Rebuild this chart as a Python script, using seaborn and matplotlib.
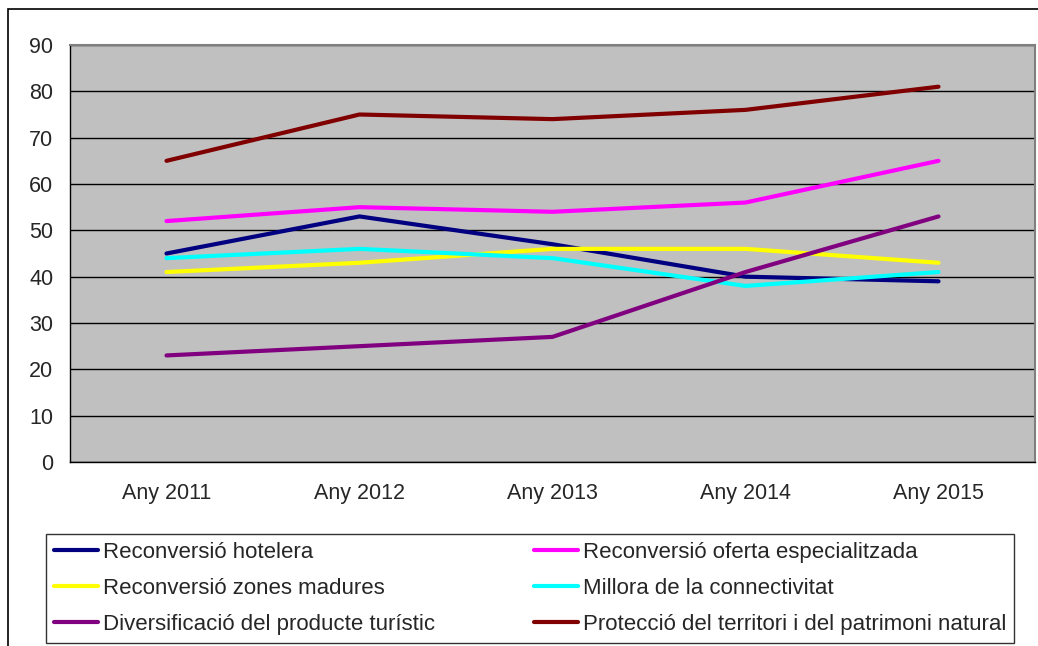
import pandas as pd
import numpy as np
import matplotlib
matplotlib.use("Agg")
import matplotlib.pyplot as plt
import matplotlib.patches as patches
import seaborn as sns

# ----- Dades del gràfic -----
anys = ["Any 2011", "Any 2012", "Any 2013", "Any 2014", "Any 2015"]

hotelera = [45, 53, 47, 40, 39]
oferta = [52, 55, 54, 56, 65]
zones = [41, 43, 46, 46, 43]
connectivitat = [44, 46, 44, 38, 41]
diversificacio = [23, 25, 27, 41, 53]
proteccio = [65, 75, 74, 76, 81]

series = {
    "Reconversió hotelera": hotelera,
    "Reconversió oferta especialitzada": oferta,
    "Reconversió zones madures": zones,
    "Millora de la connectivitat": connectivitat,
    "Diversificació del producte turístic": diversificacio,
    "Protecció del territori i del patrimoni natural": proteccio,
}
colors = ["#000080", "#FF00FF", "#FFFF00", "#00FFFF", "#800080", "#800000"]

df = pd.DataFrame([
    {"any": a, "serie": nom, "valor": v}
    for nom, vals in series.items() for a, v in zip(anys, vals)
])

# ----- Figura -----
sns.set_style("white")
plt.rcParams["font.family"] = ["Liberation Sans", "DejaVu Sans"]

fig = plt.figure(figsize=(10.38, 6.46), dpi=100)
ax = fig.add_axes([70 / 1038, 1 - 462 / 646, 965 / 1038, 417 / 646])
ax.set_facecolor("#C0C0C0")

palette = dict(zip(series.keys(), colors))
sns.lineplot(data=df, x="any", y="valor", hue="serie", palette=palette,
             linewidth=3.0, sort=False, ax=ax, legend=False)

ax.set_xlim(-0.5, 4.5)
ax.set_ylim(0, 90)
ax.set_yticks(range(0, 91, 10))
ax.yaxis.grid(True, color="black", linewidth=1)
ax.set_axisbelow(True)
ax.set_xlabel("")
ax.set_ylabel("")

# ticks
ax.set_xticks(range(5))
ax.set_xticklabels(anys)
ax.tick_params(axis="x", length=0, labelsize=15.5, pad=15)
ax.set_xticks(np.arange(-0.5, 5, 1), minor=True)
ax.tick_params(axis="x", which="minor", length=6, width=1, direction="out", color="black")
ax.tick_params(axis="y", length=7, width=1, direction="out", color="black", labelsize=15.5, pad=5)

for s in ["left", "bottom"]:
    ax.spines[s].set_color("black")
    ax.spines[s].set_linewidth(1)
for s in ["top", "right"]:
    ax.spines[s].set_color("#808080")
    ax.spines[s].set_linewidth(1.5)

# marc exterior
fig.patches.append(patches.Rectangle((8 / 1038, -0.05), 1.2, 1 - 9 / 646 + 0.05,
                                     transform=fig.transFigure, fill=False,
                                     edgecolor="black", linewidth=1.2))

# llegenda (ordre per columnes)
noms = list(series.keys())
ordre = [0, 2, 4, 1, 3, 5]
handles = [plt.Line2D([], [], color=colors[i], linewidth=3.0) for i in ordre]
labels = [noms[i] for i in ordre]
leg = fig.legend(handles, labels, ncol=2, loc="upper left",
                 bbox_to_anchor=(46 / 1038, 1 - 534 / 646),
                 fontsize=16, frameon=True, fancybox=False, edgecolor="black",
                 handlelength=2.0, handletextpad=0.2, labelspacing=0.68,
                 columnspacing=4.45, borderaxespad=0, borderpad=0.35)
leg.get_frame().set_linewidth(1)

fig.savefig("out.png", dpi=100)
